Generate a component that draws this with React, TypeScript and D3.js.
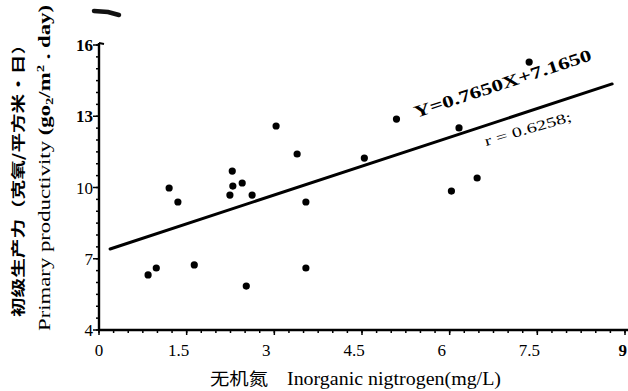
import React from 'react'
import * as d3 from 'd3'

const width = 628
const height = 391

// inorganic nitrogen (mg/L) vs primary productivity
const nitrogen = [1.2, 1.35, 2.28, 2.29, 2.45, 2.24, 2.62, 3.03, 3.39, 3.54, 4.54, 0.84, 0.98, 1.63, 2.52, 3.54, 5.09, 6.16, 7.36, 6.47, 6.03]
const productivity = [9.98, 9.39, 10.69, 10.06, 10.19, 9.68, 9.68, 12.59, 11.41, 9.39, 11.24, 6.32, 6.61, 6.74, 5.85, 6.61, 12.88, 12.51, 15.28, 10.4, 9.85]

// fitted line as drawn
const fitX = [0.19, 8.78]
const fitY = [7.41, 14.36]

const xTicks = [0, 1.5, 3, 4.5, 6, 7.5, 9]
const xTickLabels = ['0', '1.5', '3', '4.5', '6', '7.5', '9']
const yTicks = [4, 7, 10, 13, 16]

const equation = 'Y=0.7650X+7.1650'
const rText = 'r = 0.6258;'

const serif = '"Liberation Serif", "DejaVu Serif", serif'
const cjk = '"Noto Sans CJK SC", sans-serif'

const App = () => {
  const x = d3.scaleLinear().domain([0, 9]).range([99, 625])
  const y = d3.scaleLinear().domain([4, 16]).range([330, 45])

  const minorX = d3.range(0, 9.01, 0.25)
  const minorY = d3.range(4, 16.01, 0.5)

  const line = d3.line<number>()
    .x((d, i) => x(fitX[i]))
    .y((d, i) => y(fitY[i]))

  const x0 = x(0)
  const yb = y(4)

  // angle of the fit line on screen
  const angle = Math.atan2(y(fitY[1]) - y(fitY[0]), x(fitX[1]) - x(fitX[0])) * 180 / Math.PI

  return (
    <svg width={width} height={height} style={{ position: 'absolute', left: 0, top: 0, background: '#fff' }}>
      {/* scan smudge at top */}
      <path d="M94,11 L108,12 L119,15" stroke="#111" strokeWidth={4.5} fill="none" strokeLinecap="round" />

      {/* axes */}
      <line x1={x0} x2={x0} y1={y(16) - 2} y2={yb} stroke="#000" strokeWidth={2.4} />
      <line x1={x0 - 1} x2={width} y1={yb} y2={yb} stroke="#000" strokeWidth={2.4} />
      <line x1={x0} x2={x0 + 5} y1={y(16) - 2} y2={y(16) - 1} stroke="#000" strokeWidth={2} />

      {minorY.map((v, i) =>
        <line key={'my' + i} x1={x0 - 3} x2={x0} y1={y(v)} y2={y(v)} stroke="#000" strokeWidth={1.5} />
      )}
      {yTicks.map((v, i) =>
        <g key={'y' + i}>
          <line x1={x0 - 6} x2={x0} y1={y(v)} y2={y(v)} stroke="#000" strokeWidth={1.5} />
          <text x={x0 - 6} y={y(v) + 6} textAnchor="end" fontFamily={serif} fontSize={17}
            fontWeight={v >= 13 ? 'bold' : 'normal'}>{v}</text>
        </g>
      )}

      {minorX.map((v, i) =>
        <line key={'mx' + i} x1={x(v)} x2={x(v)} y1={yb} y2={yb + 3} stroke="#000" strokeWidth={1.5} />
      )}
      {xTicks.map((v, i) => {
        const last = i === xTicks.length - 1
        return (
          <g key={'x' + i}>
            <line x1={x(v)} x2={x(v)} y1={yb} y2={yb + 5} stroke="#000" strokeWidth={1.5} />
            <text x={last ? width - 1 : x(v) - (i === 0 ? 0 : 8)} y={yb + 26} textAnchor={last ? 'end' : 'middle'}
              fontFamily={serif} fontSize={17} fontWeight={last ? 'bold' : 'normal'}>{xTickLabels[i]}</text>
          </g>
        )
      })}

      {/* fit line */}
      <path d={line([0, 1]) || ''} stroke="#000" strokeWidth={3} fill="none" strokeLinecap="round" />

      {/* points */}
      {nitrogen.map((n, i) =>
        <circle key={'p' + i} cx={x(n)} cy={y(productivity[i])} r={3.6} fill="#000" />
      )}

      {/* labels on the line */}
      <text transform={`translate(416,118) rotate(${angle})`} fontFamily={serif} fontSize={17} fontWeight="bold"
        textLength={186} lengthAdjust="spacingAndGlyphs">{equation}</text>
      <text transform={`translate(486,146) rotate(${angle + 2})`} fontFamily={serif} fontSize={14}
        textLength={90} lengthAdjust="spacingAndGlyphs">{rText}</text>

      {/* axis titles */}
      <text transform="translate(23,176) rotate(-90)" textAnchor="middle" fontFamily={cjk} fontSize={14} fontWeight="bold"
        textLength={282} lengthAdjust="spacingAndGlyphs">初级生产力（克氧/平方米·日）</text>
      <text transform="translate(50,168) rotate(-90)" textAnchor="middle" fontFamily={serif} fontSize={17}
        textLength={326} lengthAdjust="spacingAndGlyphs">
        Primary productivity <tspan fontWeight="bold">(go<tspan fontSize={11} dy={3}>2</tspan><tspan dy={-3}>/m</tspan><tspan fontSize={11} dy={-6}>2</tspan><tspan dy={6}> . day)</tspan></tspan>
      </text>

      <text x={210} y={385} fontFamily={cjk} fontSize={17} textLength={58} lengthAdjust="spacingAndGlyphs">无机氮</text>
      <text x={287} y={385} fontFamily={serif} fontSize={18} textLength={214} lengthAdjust="spacingAndGlyphs">Inorganic nigtrogen(mg/L)</text>
    </svg>
  )
}

export default App
